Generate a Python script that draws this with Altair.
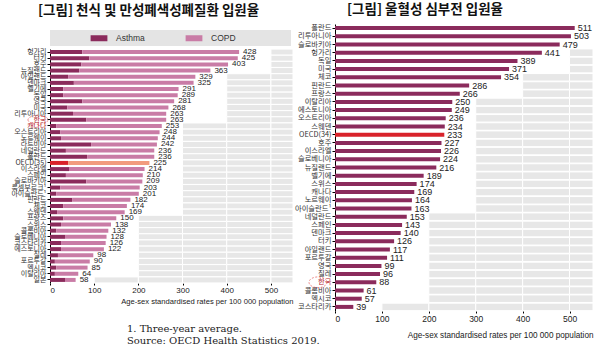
import math
import altair as alt
import pandas as pd

# ---------------- data ----------------
left_countries = ["헝가리", "터키", "호주", "뉴질랜드", "아일랜드", "덴마크", "벨기에", "독일", "영국", "미국",
                  "리투아니아", "한국", "캐나다", "오스트리아", "노르웨이", "라트비아", "네덜란드", "폴란드",
                  "OECD(35)", "이스라엘", "스페인", "슬로바키아", "룩셈부르크¹", "아이슬란드¹", "핀란드", "체코",
                  "스웨덴", "프랑스", "스위스", "콜롬비아", "슬로베니아", "코스타리카", "에스토니아", "칠레",
                  "포르투갈", "멕시코", "이탈리아", "일본"]
left_total = [428, 425, 403, 363, 329, 325, 291, 289, 281, 268, 263, 263, 253, 248, 244, 242, 236, 236,
              225, 214, 210, 209, 203, 201, 182, 174, 169, 150, 138, 132, 128, 126, 122, 98, 90, 85, 64, 58]
left_asthma = [73, 89, 71, 66, 41, 54, 30, 30, 73, 39, 52, 82, 14, 23, 25, 93, 36, 84,
               41, 43, 36, 82, 23, 14, 50, 30, 16, 30, 25, 14, 34, 25, 25, 18, 11, 14, 11, 34]

right_countries = ["폴란드", "리투아니아", "슬로바키아", "헝가리", "독일", "미국", "체코", "핀란드", "프랑스",
                   "이탈리아", "에스토니아", "오스트리아", "스웨덴", "OECD(34)", "호주", "이스라엘", "슬로베니아",
                   "뉴질랜드", "벨기에", "스위스", "캐나다", "노르웨이", "아이슬란드¹", "네덜란드", "스페인",
                   "덴마크", "터키", "아일랜드", "포르투갈", "영국", "칠레", "한국", "콜롬비아", "멕시코",
                   "코스타리카"]
right_values = [511, 503, 479, 441, 389, 371, 354, 286, 266, 250, 249, 236, 234, 233, 227, 226, 224,
                216, 189, 174, 169, 164, 163, 153, 143, 140, 126, 117, 111, 99, 96, 88, 61, 57, 39]

tick_values = [0, 100, 200, 300, 400, 500]
series = ["Asthma", "COPD"]
title_left = "[그림] 천식 및 만성폐색성폐질환 입원율"
title_right = "[그림] 울혈성 심부전 입원율"
x_title = "Age-sex standardised rates per 100 000 population"
notes = ["1. Three-year average.", "Source: OECD Health Statistics 2019."]

# ---------------- style ----------------
DARK = "#8B2B5C"
LIGHT = "#C97CA6"
RED = "#D9232A"
SALMON = "#F29C7E"
TRACK = "#E7E7E7"
XMAX = 550
KFONT = "Noto Sans CJK KR"
SFONT = "Liberation Sans"


def track_cells(countries, values, pad):
    """grey background cells (per 100-unit column) to the right of each bar's label"""
    out = []
    for c, v in zip(countries, values):
        k = min(math.ceil((v + pad) / 100.0) * 100, XMAX)
        while k < XMAX:
            out.append({"country": c, "c0": k, "c1": min(k + 100, XMAX)})
            k += 100
    return pd.DataFrame(out)


# ---------------- left panel ----------------
rows = []
for c, t, a in zip(left_countries, left_total, left_asthma):
    rows.append({"country": c, "type": "Asthma", "start": 0, "end": a})
    rows.append({"country": c, "type": "COPD", "start": a, "end": t})
lb = pd.DataFrame(rows)
lb_main = lb[~lb["country"].str.startswith("OECD")]
lb_oecd = lb[lb["country"].str.startswith("OECD")]
lt = pd.DataFrame({"country": left_countries, "total": left_total})
lcells = track_cells(left_countries, left_total, 40)

LW, LH = 243, 259
ly = alt.Y("country:N", sort=left_countries, title=None,
           scale=alt.Scale(range=[25, LH]),
           axis=alt.Axis(labelFont=KFONT, labelFontSize=7, labelPadding=1,
                         labelColor={"expr": "datum.value == '한국' || datum.value == '캐나다' ? '#B3262E' : '#333333'"},
                         domainColor="#000000", tickColor="#000000", tickSize=3, labelLimit=80))
lx_scale = alt.Scale(domain=[0, XMAX], nice=False)
lx_axis = alt.Axis(values=tick_values, grid=False, domain=False, tickColor="#000000", tickSize=2,
                   labelFont=SFONT, labelFontSize=8, labelColor="#222222", labelPadding=1,
                   title=x_title, titleFont=SFONT, titleFontSize=7.6, titleFontWeight="normal",
                   titleColor="#222222", titleAnchor="end", titlePadding=3)

l_track = alt.Chart(lcells).mark_bar(color=TRACK, size=6, stroke="white", strokeWidth=1).encode(
    y=ly, x=alt.X("c0:Q", scale=lx_scale, axis=lx_axis), x2="c1:Q")
l_bars = alt.Chart(lb_main).mark_bar(size=4).encode(
    y=ly, x=alt.X("start:Q", scale=lx_scale), x2="end:Q",
    color=alt.Color("type:N", scale=alt.Scale(domain=series, range=[DARK, LIGHT]),
                    legend=alt.Legend(orient="none", legendX=43, legendY=8, direction="horizontal",
                                      title=None, symbolType="M-1.4,-0.5H1.4V0.5H-1.4Z", symbolSize=144,
                                      symbolStrokeWidth=0, labelFont=SFONT, labelFontSize=8.5,
                                      labelColor="#333333", labelOffset=11, columnPadding=40, padding=0)))
l_oecd = alt.Chart(lb_oecd).mark_bar(size=4).encode(
    y=ly, x=alt.X("start:Q", scale=lx_scale), x2="end:Q",
    fill=alt.condition("datum.type == 'Asthma'", alt.value(RED), alt.value(SALMON)))
l_text = alt.Chart(lt).mark_text(align="left", baseline="middle", dx=4, font=SFONT, fontSize=8,
                                 color="#222222").encode(y=ly, x=alt.X("total:Q", scale=lx_scale), text="total:Q")
l_legbg = alt.Chart(pd.DataFrame({"k": [0]})).mark_rect(color="#E4E4E4").encode(
    x=alt.value(0), x2=alt.value(241), y=alt.value(6), y2=alt.value(22))
l_ring = alt.Chart(pd.DataFrame({"country": ["한국"]})).mark_point(
    shape="M-1,0A1,0.45,0,1,0,1,0A1,0.45,0,1,0,-1,0Z", size=400, filled=False, color="#E03535",
    strokeWidth=0.8, strokeDash=[2, 1.5]).encode(y=ly, x=alt.value(-12))

left = alt.layer(l_legbg, l_track, l_bars, l_oecd, l_text, l_ring).properties(
    width=LW, height=LH,
    title=alt.TitleParams(title_left, font=KFONT, fontSize=13.5, fontWeight="bold", color="#111111",
                          anchor="start", frame="group", dx=-12, offset=7))

# ---------------- right panel ----------------
rd = pd.DataFrame({"country": right_countries, "value": right_values,
                   "oecd": [c.startswith("OECD") for c in right_countries]})
rcells = track_cells(right_countries, right_values, 45)
RW, RH = 258, 287
ry = alt.Y("country:N", sort=right_countries, title=None,
           axis=alt.Axis(labelFont=KFONT, labelFontSize=7.3, labelPadding=1,
                         labelColor={"expr": "datum.value == '한국' ? '#B3262E' : '#333333'"},
                         domainColor="#000000", tickColor="#000000", tickSize=3, labelLimit=80))
rx_scale = alt.Scale(domain=[0, XMAX], nice=False)
rx_axis = alt.Axis(values=tick_values, grid=False, domain=False, tickColor="#000000", tickSize=2,
                   labelFont=SFONT, labelFontSize=8.5, labelColor="#222222", labelPadding=1,
                   title=x_title, titleFont=SFONT, titleFontSize=8.2, titleFontWeight="normal",
                   titleColor="#222222", titleAnchor="end", titlePadding=9)

r_track = alt.Chart(rcells).mark_bar(color=TRACK, size=7.5, stroke="white", strokeWidth=1).encode(
    y=ry, x=alt.X("c0:Q", scale=rx_scale, axis=rx_axis), x2="c1:Q")
r_bars = alt.Chart(rd).mark_bar(size=4).encode(
    y=ry, x=alt.X("value:Q", scale=rx_scale),
    color=alt.condition("datum.oecd", alt.value(RED), alt.value(DARK)))
r_text = alt.Chart(rd).mark_text(align="left", baseline="middle", dx=3, font=SFONT, fontSize=9,
                                 color="#222222").encode(y=ry, x=alt.X("value:Q", scale=rx_scale), text="value:Q")
r_ring = alt.Chart(pd.DataFrame({"country": ["한국"]})).mark_point(
    shape="M-1,0A1,0.6,0,1,0,1,0A1,0.6,0,1,0,-1,0Z", size=324, filled=False, color="#E03535",
    strokeWidth=0.8, strokeDash=[2, 1.5]).encode(y=ry, x=alt.value(-17))

right = alt.layer(r_track, r_bars, r_text, r_ring).properties(
    width=RW, height=RH,
    title=alt.TitleParams(title_right, font=KFONT, fontSize=13.5, fontWeight="bold", color="#111111",
                          anchor="start", frame="group", dx=12, offset=7))

chart = alt.hconcat(left, right, spacing=0,
                    title=alt.TitleParams(notes, orient="bottom", anchor="start", dx=116, offset=-15,
                                          font="DejaVu Serif", fontSize=10, fontWeight="normal",
                                          color="#222222", lineHeight=12.5)
                    ).properties(padding={"left": 10, "top": 3, "right": 0, "bottom": 0}
                    ).configure_view(stroke=None)

chart.save("out.html", embed_options={"renderer": "svg", "actions": False})
